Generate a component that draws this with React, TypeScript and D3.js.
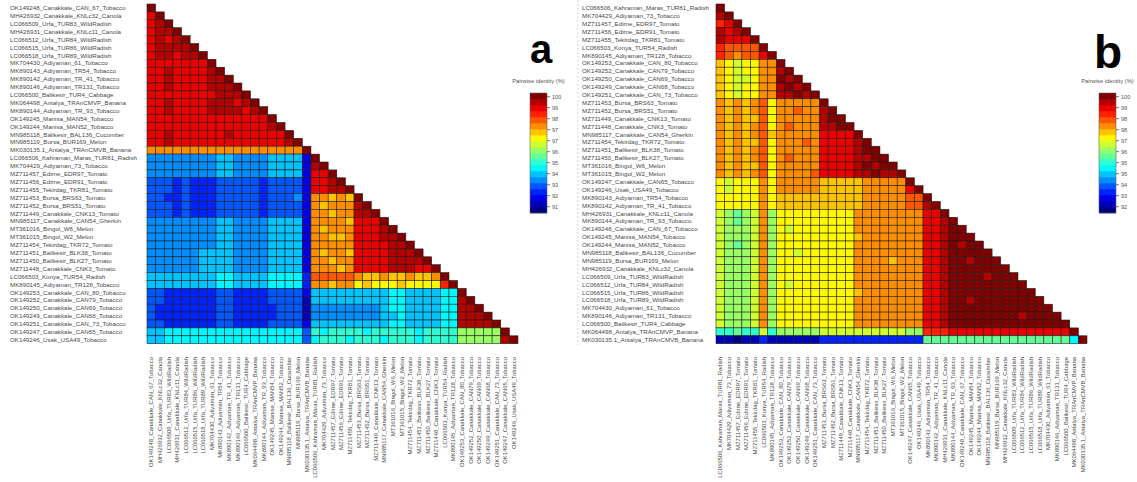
import React from 'react';
import * as d3 from 'd3';

const W = 1137;
const H = 482;
const LEVELS = '0123456789abcdefghij'; // colour-bar band index, 0 = lowest, j = 100%

// panel a: sequence order and per-row band codes (lower triangle)
const labelsA = [
  'OK149248_Canakkale_CAN_67_Tobacco', 'MH426932_Canakkale_KNLc32_Canola', 'LC066509_Urfa_TUR83_WildRadish',
  'MH426931_Canakkale_KNLc11_Canola', 'LC066512_Urfa_TUR84_WildRadish', 'LC066515_Urfa_TUR86_WildRadish',
  'LC066518_Urfa_TUR89_WildRadish', 'MK704430_Adiyaman_61_Tobacco', 'MK890143_Adiyaman_TR54_Tobacco',
  'MK890142_Adiyaman_TR_41_Tobacco', 'MK890146_Adiyaman_TR131_Tobacco', 'LC066500_Balikesir_TUR4_Cabbage',
  'MK064498_Antalya_TRAnCMVP_Banana', 'MK890144_Adiyaman_TR_93_Tobacco', 'OK149245_Manisa_MAN54_Tobacco',
  'OK149244_Manisa_MAN52_Tobacco', 'MN985118_Balikesir_BAL136_Cucumber', 'MN985119_Bursa_BUR169_Melon',
  'MK030135.1_Antalya_TRAnCMVB_Banana', 'LC066506_Kahraman_Maras_TUR81_Radish', 'MK704429_Adiyaman_73_Tobacco',
  'MZ711457_Edirne_EDR97_Tomato', 'MZ711456_Edirne_EDR91_Tomato', 'MZ711455_Tekirdag_TKR81_Tomato',
  'MZ711453_Bursa_BRS63_Tomato', 'MZ711452_Bursa_BRS51_Tomato', 'MZ711449_Canakkale_CNK13_Tomato',
  'MN985117_Canakkale_CAN54_Gherkin', 'MT361016_Bingol_W6_Melon', 'MT361015_Bingol_W2_Melon',
  'MZ711454_Tekirdag_TKR72_Tomato', 'MZ711451_Balikesir_BLK38_Tomato', 'MZ711450_Balikesir_BLK27_Tomato',
  'MZ711448_Canakkale_CNK3_Tomato', 'LC066503_Konya_TUR54_Radish', 'MK890145_Adiyaman_TR128_Tobacco',
  'OK149253_Canakkale_CAN_80_Tobacco', 'OK149252_Canakkale_CAN79_Tobacco', 'OK149250_Canakkale_CAN69_Tobacco',
  'OK149249_Canakkale_CAN68_Tobacco', 'OK149251_Canakkale_CAN_73_Tobacco', 'OK149247_Canakkale_CAN65_Tobacco',
  'OK149246_Usak_USA49_Tobacco',
];

const rowsA = [
  'j',
  'hj',
  'hij',
  'hiij',
  'hihij',
  'hiiiij',
  'hiihiij',
  'hhhhhhhj',
  'hhihhhhij',
  'hhihhhhiij',
  'hhihhhhiiij',
  'hhhhhhhhiiij',
  'hhihhhhiiihij',
  'hhihhhhiiiihij',
  'hhhhhhhhhhhhhhj',
  'hhhhhhhhhhhhhhij',
  'hhihhhhhhihhhhhhj',
  'hhihhhhhhhhhhhhhij',
  'eeeeeeeeeeeeeeeeeej',
  '555555556655556666' + '2' + 'j',
  '555555556655556666' + '2' + 'ij',
  '555555556655556666' + '2' + 'hhj',
  '444343334444434444' + '2' + 'hhij',
  '444343334444434444' + '2' + 'hhiij',
  '443343334444434445' + '2' + 'eeded' + 'j',
  '444343334444434444' + '2' + 'edeee' + 'ij',
  '444343334444434444' + '2' + 'eedee' + 'iij',
  '555555556655556666' + '2' + 'eeeed' + 'hhhj',
  '555555556655556666' + '2' + 'edeee' + 'hhhij',
  '555555556655556666' + '2' + 'eedde' + 'hhhiij',
  '555555556655556666' + '2' + 'eeeee' + 'hhhhiij',
  '555555666655556666' + '2' + 'edeed' + 'hhhhiiij',
  '555555666655556666' + '2' + 'eedee' + 'hhhhiiiij',
  '555555666655556666' + '2' + 'eeede' + 'hhhhiiihhj',
  '666666667766667777' + '3' + 'fffff' + 'eddeddedde' + 'j',
  '666666667766667777' + '3' + 'eedee' + 'cdcccdcccc' + 'g' + 'j',
  '443333334433334444' + '2' + '66666' + '6666776666' + '77' + 'j',
  '443333334433334444' + '1' + '66666' + '6666776666' + '77' + 'ij',
  '433333334433333444' + '1' + '55555' + '5556776666' + '77' + 'iij',
  '433333334433333444' + '1' + '55555' + '5556676666' + '77' + 'iiij',
  '443333334433334444' + '2' + '66666' + '6666776666' + '77' + 'iiiij',
  '667777777777777777' + '4' + '87888878888878888' + 'aaaaa' + 'j',
  '667777777777777777' + '4' + '78887888788878888' + 'aaaaa' + 'ij',
];

// panel b
const labelsB = [
  'LC066506_Kahraman_Maras_TUR81_Radish', 'MK704429_Adiyaman_73_Tobacco', 'MZ711457_Edirne_EDR97_Tomato',
  'MZ711456_Edirne_EDR91_Tomato', 'MZ711455_Tekirdag_TKR81_Tomato', 'LC066503_Konya_TUR54_Radish',
  'MK890145_Adiyaman_TR128_Tobacco', 'OK149253_Canakkale_CAN_80_Tobacco', 'OK149252_Canakkale_CAN79_Tobacco',
  'OK149250_Canakkale_CAN69_Tobacco', 'OK149249_Canakkale_CAN68_Tobacco', 'OK149251_Canakkale_CAN_73_Tobacco',
  'MZ711453_Bursa_BRS63_Tomato', 'MZ711452_Bursa_BRS51_Tomato', 'MZ711449_Canakkale_CNK13_Tomato',
  'MZ711448_Canakkale_CNK3_Tomato', 'MN985117_Canakkale_CAN54_Gherkin', 'MZ711454_Tekirdag_TKR72_Tomato',
  'MZ711451_Balikesir_BLK38_Tomato', 'MZ711450_Balikesir_BLK27_Tomato', 'MT361016_Bingol_W6_Melon',
  'MT361015_Bingol_W2_Melon', 'OK149247_Canakkale_CAN65_Tobacco', 'OK149246_Usak_USA49_Tobacco',
  'MK890143_Adiyaman_TR54_Tobacco', 'MK890142_Adiyaman_TR_41_Tobacco', 'MH426931_Canakkale_KNLc11_Canola',
  'MK890144_Adiyaman_TR_93_Tobacco', 'OK149248_Canakkale_CAN_67_Tobacco', 'OK149245_Manisa_MAN54_Tobacco',
  'OK149244_Manisa_MAN52_Tobacco', 'MN985118_Balikesir_BAL136_Cucumber', 'MN985119_Bursa_BUR169_Melon',
  'MH426932_Canakkale_KNLc32_Canola', 'LC066509_Urfa_TUR83_WildRadish', 'LC066512_Urfa_TUR84_WildRadish',
  'LC066515_Urfa_TUR86_WildRadish', 'LC066518_Urfa_TUR89_WildRadish', 'MK704430_Adiyaman_61_Tobacco',
  'MK890146_Adiyaman_TR131_Tobacco', 'LC066500_Balikesir_TUR4_Cabbage', 'MK064498_Antalya_TRAnCMVP_Banana',
  'MK030135.1_Antalya_TRAnCMVB_Banana',
];

const rowsB = [
  'j',
  'ij',
  'ghj',
  'ihij',
  'ihhhj',
  'gffffj',
  'gfeffhj',
  'dcbcc' + 'ee' + 'j',
  'dcbcc' + 'ee' + 'ij',
  'dcbbc' + 'ee' + 'jij',
  'dcbcc' + 'ee' + 'ijij',
  'dcbcc' + 'ee' + 'iijij',
  'edede' + 'fc' + 'eeeee' + 'j',
  'edede' + 'fc' + 'eefee' + 'ij',
  'ededd' + 'fc' + 'eeeee' + 'ijj',
  'edede' + 'fc' + 'efeee' + 'iijj',
  'edede' + 'fd' + 'eeeee' + 'hhhhj',
  'ededd' + 'fc' + 'eeefe' + 'hhhhij',
  'edede' + 'fc' + 'eeeee' + 'hhhhijj',
  'edede' + 'fc' + 'efeee' + 'hhhhiijj',
  'ededd' + 'fc' + 'eeeee' + 'hhhhijijj',
  'edede' + 'fc' + 'eeeef' + 'hhhhiijiij',
  'cbccc' + 'ec' + 'eeeee' + 'dddddeeeee' + 'j',
  'cbccc' + 'ec' + 'eeeee' + 'dddddeeeee' + 'hj',
  'ccccc' + 'ec' + 'ddddd' + 'dddddeeeee' + 'ff' + 'j',
  'ccccc' + 'ec' + 'ddddd' + 'dddddeeeee' + 'ff' + 'ij',
  'ba9ab' + 'ea' + 'ccccc' + 'cccceeeeee' + 'ee' + 'hh' + 'j',
  'ba9ab' + 'ea' + 'ccccc' + 'cccceeeeee' + 'ee' + 'hh' + 'ij',
  'baaab' + 'ea' + 'cbccc' + 'cccceeeeee' + 'ee' + 'hh' + 'ijj',
  'baaab' + 'ea' + 'ccccc' + 'ccccdeeeee' + 'ee' + 'hh' + 'ijjj',
  'ba9ab' + 'ea' + 'ccccc' + 'cccceeeeee' + 'ee' + 'hh' + 'ijijj',
  'baaab' + 'ea' + 'ccbcc' + 'cccceeeeee' + 'ee' + 'hh' + 'ijjjjj',
  'baaab' + 'ea' + 'ccccc' + 'cccceeeede' + 'ee' + 'hh' + 'ijjijjj',
  'baaab' + 'ea' + 'ccccc' + 'cccceeeeee' + 'ee' + 'hh' + 'ijjjjjjj',
  'baaab' + 'ea' + 'ccccc' + 'cccceeeeee' + 'ee' + 'hh' + 'ijjjjijjj',
  'baaab' + 'ea' + 'cbccc' + 'cccceeeeee' + 'ee' + 'hh' + 'ijjjjjjjjj',
  'baaab' + 'ea' + 'ccccc' + 'ccccdeeeee' + 'ee' + 'hh' + 'ijjjjjjjjjj',
  'baaab' + 'ea' + 'ccccc' + 'cccceeeeee' + 'ee' + 'hh' + 'ijjijjjjjjjj',
  'baaab' + 'ea' + 'ccccc' + 'cccceeeeee' + 'ee' + 'hh' + 'ijjjjjjjjjjjj',
  'baaab' + 'ea' + 'ccccc' + 'cccceeeeee' + 'ee' + 'hh' + 'ijjjjjjjjijjjj',
  'baaab' + 'ea' + 'ccccc' + 'cccceeeeee' + 'ee' + 'hh' + 'ijjjjjjjjjjjjjj',
  '88988' + 'b8' + 'aaaaa' + 'bbbbbbbbbb' + 'aa' + 'gg' + 'ghhhhhhhhhhhhhh' + 'j',
  '11011' + '3' + '111111' + '333333333333' + '99999999999999999' + '7' + 'j',
];

// colour-bar ranges and tick values (labels are these rounded)
const domainA: [number, number] = [90.8, 100.29];
const domainB: [number, number] = [91.75, 100.26];
const ticksA = [100, 99.13, 98.26, 97.39, 96.52, 95.65, 94.78, 93.91, 93.04, 92.17, 91.3];
const ticksB = [100, 99.22, 98.44, 97.66, 96.88, 96.1, 95.32, 94.54, 93.76, 92.98, 92.2];

const jet = d3.scaleLinear<string>()
  .domain([0, 0.125, 0.375, 0.625, 0.875, 1])
  .range(['#00007f', '#0000ff', '#00ffff', '#ffff00', '#ff0000', '#7f0000'])
  .interpolate(d3.interpolateRgb);
const bandColors = d3.range(LEVELS.length).map(i => jet(i / (LEVELS.length - 1)));

const FONT = '"Liberation Sans", Arial, sans-serif';

type PanelProps = {
  labels: string[];
  rows: string[];
  domain: [number, number];
  ticks: number[];
  gridX: number;
  labelX: number;
  barX: number;
  letter: string;
  letterX: number;
  letterY: number;
  letterSize: number;
};

function Panel({ labels, rows, domain, ticks, gridX, labelX, barX, letter, letterX, letterY, letterSize }: PanelProps) {
  const x = d3.scaleBand().domain(labels).range([gridX, gridX + 371]);
  const y = d3.scaleBand().domain(labels).range([4, 343.7]);
  const n = LEVELS.length;
  const step = (domain[1] - domain[0]) / n;
  const color = d3.scaleQuantize<string>().domain(domain).range(bandColors);

  // turn band codes into identity values
  const cells = rows.flatMap((row, r) =>
    row.split('').map((ch, c) => ({ r, c, v: domain[0] + (LEVELS.indexOf(ch) + 0.5) * step }))
  );

  const barY = d3.scaleLinear().domain(domain).range([213, 93]);
  const barW = 17;
  const fmt = d3.format('.0f');
  const fs = 6.2;
  const fsb = 5.9;

  return (
    <g>
      {cells.map(d => (
        <rect key={`${d.r}-${d.c}`}
          x={x(labels[d.c])} y={y(labels[d.r])}
          width={x.bandwidth()} height={y.bandwidth()}
          fill={color(d.v)} stroke="#1b1b1b" strokeWidth={0.55} />
      ))}

      {labels.map(l => (
        <text key={'r' + l} x={labelX} y={(y(l) ?? 0) + y.bandwidth() / 2 + fs * 0.36}
          fontSize={fs} fill="#4a4a4a" fontFamily={FONT}>{l}</text>
      ))}

      {labels.map(l => (
        <text key={'c' + l}
          transform={`translate(${(x(l) ?? 0) + x.bandwidth() / 2 + fsb * 0.36},357) rotate(-90)`}
          textAnchor="end" fontSize={fsb} fill="#4a4a4a" fontFamily={FONT}>{l}</text>
      ))}

      {/* colour bar */}
      <text x={barX + barW / 2} y={83} textAnchor="middle" fontSize={5.8} fill="#555" fontFamily={FONT}>
        Pairwise identity (%)
      </text>
      {bandColors.map((c, k) => (
        <rect key={'b' + k} x={barX}
          y={barY(domain[0] + (k + 1) * step)}
          width={barW}
          height={barY(domain[0] + k * step) - barY(domain[0] + (k + 1) * step) + 0.3}
          fill={c} />
      ))}
      <rect x={barX} y={93} width={barW} height={120} fill="none" stroke="#666" strokeWidth={0.6} />
      {ticks.map(t => (
        <g key={'t' + t}>
          <line x1={barX + barW} x2={barX + barW + 3} y1={barY(t)} y2={barY(t)} stroke="#444" strokeWidth={0.7} />
          <text x={barX + barW + 5} y={barY(t) + 2} fontSize={5.6} fill="#555" fontFamily={FONT}>{fmt(t)}</text>
        </g>
      ))}

      <text x={letterX} y={letterY} textAnchor="middle" fontSize={letterSize} fontWeight="bold"
        fill="#000" fontFamily={FONT}>{letter}</text>
    </g>
  );
}

export default function App() {
  return (
    <svg width={W} height={H} viewBox={`0 0 ${W} ${H}`}
      style={{ position: 'absolute', left: 0, top: 0, background: '#fff' }}>
      <rect width={W} height={H} fill="#fff" />
      <Panel labels={labelsA} rows={rowsA} domain={domainA} ticks={ticksA}
        gridX={147} labelX={10} barX={530} letter="a" letterX={541} letterY={63} letterSize={40} />
      <line x1={578} x2={578} y1={0} y2={345} stroke="#bbb" strokeWidth={0.6} strokeDasharray="2,2" />
      <Panel labels={labelsB} rows={rowsB} domain={domainB} ticks={ticksB}
        gridX={716} labelX={582} barX={1099} letter="b" letterX={1108} letterY={68} letterSize={46} />
    </svg>
  );
}
